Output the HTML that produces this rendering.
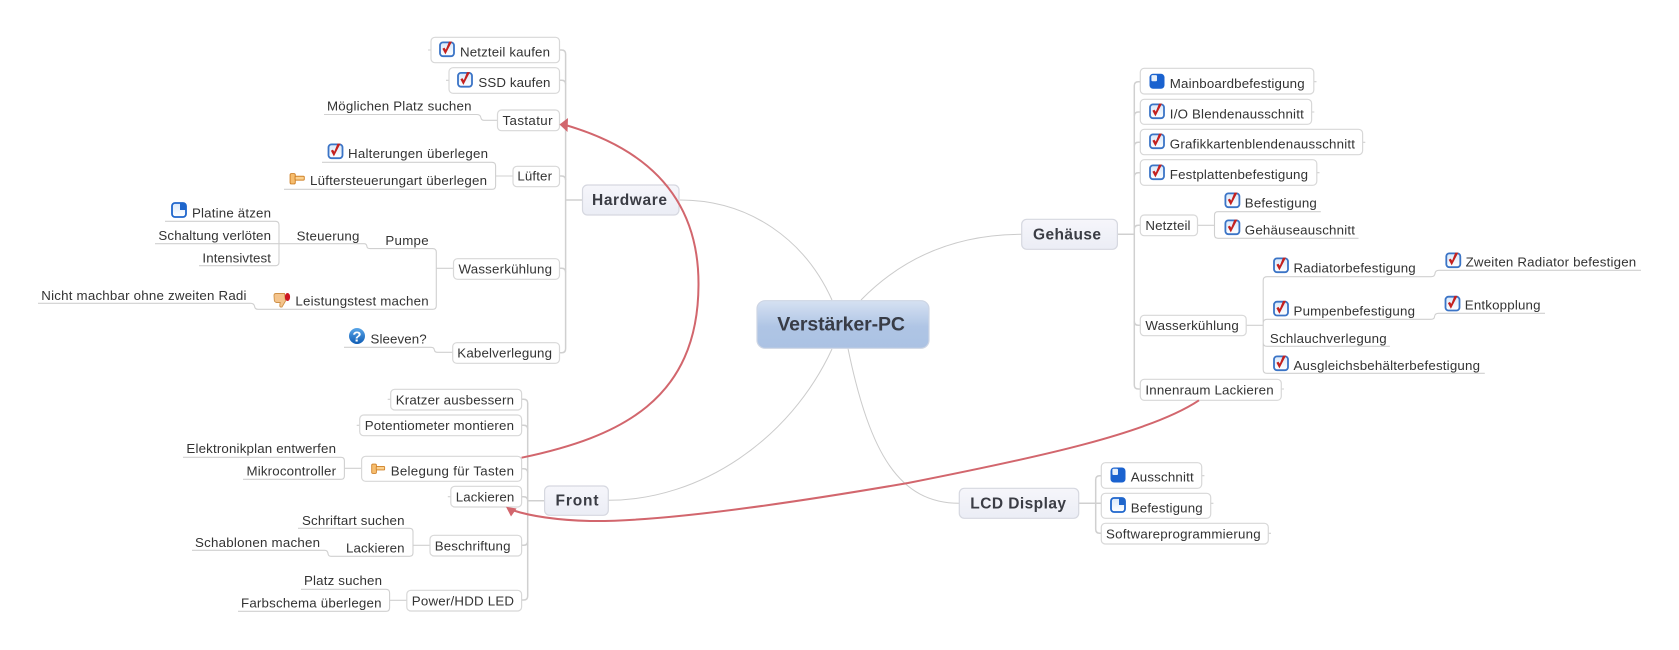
<!DOCTYPE html>
<html lang="de">
<head>
<meta charset="utf-8">
<title>Verstärker-PC</title>
<style>
html,body{margin:0;padding:0;background:#fff;width:1679px;height:650px;overflow:hidden}
svg{display:block}
text{font-family:"Liberation Sans",sans-serif;font-size:13.3px;fill:#333}
text.b{font-weight:bold;font-size:15.5px;fill:#3a3c44}
text.c{font-weight:bold;font-size:19.5px;fill:#383c46}
.l{fill:none;stroke:#d0d0d0;stroke-width:1.1}
.s{fill:none;stroke:#d0d0d0;stroke-width:1.5}
.k{fill:none;stroke:#cbcbcb;stroke-width:1}
.n{fill:#fff;stroke:#d8d8d8;stroke-width:1.2}
.m{fill:url(#mg);stroke:#d6d8e0;stroke-width:1.2}
.r{fill:none;stroke:#d2666d;stroke-width:2}
</style>
</head>
<body>
<svg width="1679" height="650" viewBox="0 0 1679 650" xmlns="http://www.w3.org/2000/svg">
<defs>
<linearGradient id="mg" x1="0" y1="0" x2="0" y2="1"><stop offset="0" stop-color="#f6f6fb"/><stop offset="1" stop-color="#ebedf5"/></linearGradient>
<linearGradient id="cg" x1="0" y1="0" x2="0" y2="1"><stop offset="0" stop-color="#d6e1f2"/><stop offset=".55" stop-color="#afc5e5"/><stop offset="1" stop-color="#abc2e3"/></linearGradient>
<linearGradient id="qg" x1="0" y1="0" x2="0" y2="1"><stop offset="0" stop-color="#5aa6e8"/><stop offset="1" stop-color="#0f5cb4"/></linearGradient>
<linearGradient id="wg" x1="0" y1="0" x2="0" y2="1"><stop offset="0" stop-color="#d9e8fa"/><stop offset="1" stop-color="#fff"/></linearGradient>
<symbol id="chk" viewBox="0 0 16 16" overflow="visible">
<rect x="1" y="1.4" width="14" height="13.8" rx="3" fill="url(#wg)" stroke="#3b74c6" stroke-width="1.8"/>
<path d="M3.4 7.8 L6.4 13.4 L13 .6 L10 .6 L6.8 8.6 L5.4 6.6 Z" fill="#c4211f"/>
</symbol>
<symbol id="p75" viewBox="0 0 16 16">
<rect x=".5" y=".5" width="15" height="15" rx="3.5" fill="#1a62cf"/>
<rect x="2.4" y="1.8" width="5.6" height="6.2" rx="1" fill="#e6effa"/>
</symbol>
<symbol id="p25" viewBox="0 0 16 16">
<rect x="1" y="1" width="14" height="14" rx="3" fill="url(#wg)" stroke="#1f66cc" stroke-width="1.8"/>
<path d="M9 1 H12 Q15 1 15 4 V8 H9 Z" fill="#1f66cc"/>
</symbol>
<symbol id="ham" viewBox="0 0 16 12">
<rect x=".8" y=".6" width="5.4" height="10.8" rx="1.4" fill="#f6bd6e" stroke="#cf8128" stroke-width="1"/>
<rect x="6" y="3.4" width="9.6" height="4" rx="1" fill="#fbd18f" stroke="#cf8128" stroke-width="1"/>
</symbol>
</defs>

<!-- central curves -->
<path class="k" d="M680 200 C750 200 805 240 832 300"/>
<path class="k" d="M1021.7 234.3 C960 234.3 905 255 861 300"/>
<path class="k" d="M608.3 500.3 C700 500.3 790 440 832 349"/>
<path class="k" d="M959.3 503.3 C900 503.3 870 455 848 348.5"/>

<!-- Hardware connectors -->
<path class="s" d="M559.5 50 H561.6 Q565.6 50 565.6 54 V348.7 Q565.6 352.7 561.6 352.7 H559.5"/>
<path class="s" d="M559.5 80.3 H561.6 Q565.6 80.3 565.6 84.3 M559.5 176 H561.6 Q565.6 176 565.6 180 M559.5 268.3 H561.6 Q565.6 268.3 565.6 272.3"/>
<path class="s" d="M565.6 200 H582.5"/>
<path class="l" d="M428 50 H431 M446 80.3 H449"/>
<path class="l" d="M324 114.5 H477 Q480.5 114.5 481 118 Q481.5 120.3 484 120.3 H497.5"/>
<path class="l" d="M322 162.3 H492 Q495.6 162.3 495.6 166 V185.6 Q495.6 189.3 492 189.3 H284 M495.6 176 H513"/>
<path class="l" d="M165 221.3 H275.4 Q279 221.3 279 225 V262 Q279 265.7 275.4 265.7 H199 M155 243.7 H364 Q366.5 243.7 366.8 246 Q367 248.6 370 248.6 H432.6 Q436.3 248.6 436.3 252.3 V305.6 Q436.3 309.3 432.6 309.3 H258 Q255 309.3 254.6 306.5 Q254 303.3 250.7 303.3 H38 M436.3 268.3 H453.5"/>
<path class="l" d="M344 347.3 H431 Q434 347.3 434.4 350 Q434.8 352.3 437.5 352.3 H452.7"/>

<!-- Front connectors -->
<path class="s" d="M521.6 399.3 H523.7 Q527.7 399.3 527.7 403.3 V596 Q527.7 600 523.7 600 H521.6"/>
<path class="s" d="M521.6 425.3 H523.7 Q527.7 425.3 527.7 429.3 M521.6 468.7 H523.7 Q527.7 468.7 527.7 472.7 M521.6 496.7 H523.7 Q527.7 496.7 527.7 500.7 M521.6 545.3 H523.7 Q527.7 545.3 527.7 541.3"/>
<path class="s" d="M527.7 500.7 H544.6"/>
<path class="l" d="M387.7 399.3 H390.7 M356.7 425.3 H359.7 M447.8 496.7 H450.8"/>
<path class="l" d="M183 457.3 H341 Q344.4 457.3 344.4 460.7 V476 Q344.4 479.3 341 479.3 H243 M344.4 468.3 H361.6"/>
<path class="l" d="M298 528.3 H409.5 Q413 528.3 413 531.8 V552.8 Q413 556.3 409.5 556.3 H331 Q328.3 556.3 328 553.5 Q327.5 550.3 324.7 550.3 H192 M413 545.3 H430"/>
<path class="l" d="M301 589.3 H386 Q389.6 589.3 389.6 593 V607.7 Q389.6 611.3 386 611.3 H238 M389.6 600.3 H406.8"/>

<!-- Gehäuse connectors -->
<path class="s" d="M1140.3 81.7 H1138.3 Q1134.3 81.7 1134.3 85.7 V385 Q1134.3 389 1138.3 389 H1140.3"/>
<path class="s" d="M1140.3 112 H1138.3 Q1134.3 112 1134.3 116 M1140.3 142.3 H1138.3 Q1134.3 142.3 1134.3 146.3 M1140.3 172.7 H1138.3 Q1134.3 172.7 1134.3 176.7 M1140.3 225.3 H1138.3 Q1134.3 225.3 1134.3 229.3 M1140.3 325.3 H1138.3 Q1134.3 325.3 1134.3 321.3"/>
<path class="s" d="M1117.4 234.3 H1134.3"/>
<path class="l" d="M1313.8 81.7 H1316.5 M1311.6 112 H1314.3 M1362.6 142.3 H1365.3 M1316.8 172.7 H1319.5 M1281.3 389 H1284"/>
<path class="l" d="M1197.5 225.3 H1214.5 M1320.8 211.7 H1218 Q1214.5 211.7 1214.5 215.2 V234.8 Q1214.5 238.3 1218 238.3 H1358.5"/>
<path class="l" d="M1246.2 325.3 H1263.2 M1431 276.7 H1267 Q1263.2 276.7 1263.2 280.4 V369.6 Q1263.2 373.3 1267 373.3 H1484.8 M1263.2 323 Q1263.2 319.3 1267 319.3 H1431 M1263.2 342.6 Q1263.2 346.3 1267 346.3 H1389.9"/>
<path class="l" d="M1431 276.7 Q1434.8 276.7 1435 273.5 Q1435.4 270.3 1439 270.3 H1641"/>
<path class="l" d="M1431 319.3 Q1434.4 319.3 1434.6 316.3 Q1435 313.3 1438.5 313.3 H1545"/>

<!-- LCD connectors -->
<path class="s" d="M1101.3 475.7 H1099.7 Q1095.7 475.7 1095.7 479.7 V529.3 Q1095.7 533.3 1099.7 533.3 H1101.3"/>
<path class="s" d="M1078.7 503.3 H1101.3"/>
<path class="l" d="M1201.7 475.7 H1204.4 M1210.7 503.3 H1213.4 M1268.3 533.3 H1271"/>

<!-- Central and main topics -->
<rect x="757" y="300.7" width="172" height="47.6" rx="8" fill="url(#cg)" stroke="#cdd5e4" stroke-width="1.2"/>
<text class="c" x="777.3" y="330.7" textLength="127.7">Verstärker-PC</text>
<rect class="m" x="582.5" y="185" width="96.5" height="30" rx="5"/>
<text class="b" x="592" y="205" textLength="75">Hardware</text>
<rect class="m" x="544.6" y="486" width="63.7" height="29.3" rx="5"/>
<text class="b" x="555.5" y="505.5" textLength="43">Front</text>
<rect class="m" x="1021.7" y="219.3" width="95.7" height="30" rx="5"/>
<text class="b" x="1033" y="239.3" textLength="68">Gehäuse</text>
<rect class="m" x="959.3" y="488.3" width="119.4" height="30" rx="5"/>
<text class="b" x="970.3" y="508.3" textLength="95.7">LCD Display</text>

<!-- Hardware children -->
<rect class="n" x="431" y="37.3" width="128.5" height="25.4" rx="4"/>
<use href="#chk" x="439" y="41" width="16" height="16"/>
<text x="460" y="56.7" textLength="90">Netzteil kaufen</text>
<rect class="n" x="449" y="67.7" width="110.5" height="25.6" rx="4"/>
<use href="#chk" x="457" y="71.5" width="16" height="16"/>
<text x="478.4" y="87" textLength="72">SSD kaufen</text>
<rect class="n" x="497.5" y="110" width="62" height="20.7" rx="4"/>
<text x="502.5" y="125" textLength="50">Tastatur</text>
<text x="327" y="110.5" textLength="144.5">Möglichen Platz suchen</text>
<rect class="n" x="513" y="166.3" width="46.5" height="20.4" rx="4"/>
<text x="517.4" y="180.7" textLength="34.6">Lüfter</text>
<use href="#chk" x="327.5" y="143" width="16" height="16"/>
<text x="348" y="158" textLength="140">Halterungen überlegen</text>
<use href="#ham" x="289" y="173" width="16" height="11.5"/>
<text x="310" y="185" textLength="177">Lüftersteuerungart überlegen</text>
<use href="#p25" x="171" y="202" width="16" height="16"/>
<text x="192" y="217.3" textLength="79">Platine ätzen</text>
<text x="158.4" y="240" textLength="112.6">Schaltung verlöten</text>
<text x="202.4" y="262.3" textLength="68.6">Intensivtest</text>
<text x="296.6" y="240.3" textLength="62.8">Steuerung</text>
<text x="385.4" y="245" textLength="43.2">Pumpe</text>
<rect class="n" x="453.5" y="258.7" width="106" height="20.6" rx="4"/>
<text x="458.5" y="273.3" textLength="93.5">Wasserkühlung</text>
<g transform="translate(274 292)">
<path d="M2 1.5 H10.5 L11.5 9 L8 15 Q5.5 15.5 5.8 13 L6.2 10.5 H2.5 Q.3 10 .3 8 L0 3.5 Q0 1.5 2 1.5 Z" fill="#f4c48c" stroke="#cf9148" stroke-width=".9"/>
<ellipse cx="13.5" cy="5" rx="2.6" ry="4" fill="#cc1622"/>
</g>
<text x="295.4" y="305.7" textLength="133.2">Leistungstest machen</text>
<text x="41.3" y="300" textLength="205.2">Nicht machbar ohne zweiten Radi</text>
<rect class="n" x="452.7" y="342.7" width="106.8" height="20.6" rx="4"/>
<text x="457.3" y="357.3" textLength="94.7">Kabelverlegung</text>
<g>
<circle cx="357" cy="336" r="8" fill="url(#qg)"/>
<text x="357" y="341.5" text-anchor="middle" style="font-size:15px;font-weight:bold;fill:#fff">?</text>
</g>
<text x="370.5" y="343.3" textLength="56.2">Sleeven?</text>

<!-- Front children -->
<rect class="n" x="390.7" y="389.3" width="130.9" height="20.7" rx="4"/>
<text x="395.7" y="404.3" textLength="118.3">Kratzer ausbessern</text>
<rect class="n" x="359.7" y="415" width="161.9" height="20.7" rx="4"/>
<text x="364.7" y="430" textLength="149.3">Potentiometer montieren</text>
<rect class="n" x="361.6" y="456.3" width="160" height="25" rx="4"/>
<use href="#ham" x="370" y="463.5" width="16" height="10.5"/>
<text x="390.7" y="475.7" textLength="123.3">Belegung für Tasten</text>
<rect class="n" x="450.8" y="486.3" width="70.8" height="20.7" rx="4"/>
<text x="455.8" y="501.3" textLength="58.5">Lackieren</text>
<rect class="n" x="430" y="535.3" width="91.6" height="20.7" rx="4"/>
<text x="434.7" y="550.3" textLength="75.8">Beschriftung</text>
<rect class="n" x="406.8" y="590.3" width="114.8" height="20.7" rx="4"/>
<text x="411.8" y="605.3" textLength="102.2">Power/HDD LED</text>
<text x="186.4" y="453" textLength="149.6">Elektronikplan entwerfen</text>
<text x="246.5" y="475.3" textLength="89.5">Mikrocontroller</text>
<text x="302" y="525" textLength="102.5">Schriftart suchen</text>
<text x="346" y="552.7" textLength="58.5">Lackieren</text>
<text x="195" y="547" textLength="125">Schablonen machen</text>
<text x="304" y="585" textLength="78">Platz suchen</text>
<text x="241" y="607.3" textLength="140.5">Farbschema überlegen</text>

<!-- Gehäuse children -->
<rect class="n" x="1140.3" y="68.3" width="173.5" height="25.7" rx="4"/>
<use href="#p75" x="1149" y="73.3" width="16" height="16"/>
<text x="1169.8" y="88" textLength="134.8">Mainboardbefestigung</text>
<rect class="n" x="1140.3" y="99.3" width="171.3" height="25" rx="4"/>
<use href="#chk" x="1149" y="103" width="16" height="16"/>
<text x="1169.8" y="118.3" textLength="134">I/O Blendenausschnitt</text>
<rect class="n" x="1140.3" y="129.3" width="222.3" height="25.4" rx="4"/>
<use href="#chk" x="1149" y="133" width="16" height="16"/>
<text x="1169.8" y="148.7" textLength="185.2">Grafikkartenblendenausschnitt</text>
<rect class="n" x="1140.3" y="159.7" width="176.5" height="25.6" rx="4"/>
<use href="#chk" x="1149" y="164" width="16" height="16"/>
<text x="1169.8" y="179" textLength="138.2">Festplattenbefestigung</text>
<rect class="n" x="1140.3" y="215" width="57.2" height="20.7" rx="4"/>
<text x="1145.4" y="230" textLength="45.1">Netzteil</text>
<use href="#chk" x="1224.4" y="192" width="16" height="16"/>
<text x="1244.8" y="207.7" textLength="72">Befestigung</text>
<use href="#chk" x="1224.4" y="219" width="16" height="16"/>
<text x="1244.8" y="234.3" textLength="110.2">Gehäuseauschnitt</text>
<rect class="n" x="1140.3" y="315.3" width="105.9" height="20.4" rx="4"/>
<text x="1145.4" y="330" textLength="93.4">Wasserkühlung</text>
<use href="#chk" x="1273" y="257" width="16" height="16"/>
<text x="1293.5" y="272.3" textLength="122.2">Radiatorbefestigung</text>
<use href="#chk" x="1445.3" y="252" width="16" height="16"/>
<text x="1465.6" y="266.5" textLength="170.6">Zweiten Radiator befestigen</text>
<use href="#chk" x="1273" y="300.3" width="16" height="16"/>
<text x="1293.5" y="315.7" textLength="121.5">Pumpenbefestigung</text>
<use href="#chk" x="1444.5" y="295.3" width="16" height="16"/>
<text x="1464.8" y="309.7" textLength="75.7">Entkopplung</text>
<text x="1269.9" y="343" textLength="116.7">Schlauchverlegung</text>
<use href="#chk" x="1273" y="355" width="16" height="16"/>
<text x="1293.5" y="370" textLength="186.5">Ausgleichsbehälterbefestigung</text>
<rect class="n" x="1140.3" y="379.3" width="141" height="21" rx="4"/>
<text x="1145.4" y="394.3" textLength="128.2">Innenraum Lackieren</text>

<!-- LCD children -->
<rect class="n" x="1101.3" y="462.7" width="100.4" height="25.6" rx="4"/>
<use href="#p75" x="1110" y="467" width="16" height="16"/>
<text x="1130.7" y="481.7" textLength="63">Ausschnitt</text>
<rect class="n" x="1101.3" y="493.3" width="109.4" height="25" rx="4"/>
<use href="#p25" x="1110" y="497" width="16" height="16"/>
<text x="1130.7" y="512.3" textLength="72">Befestigung</text>
<rect class="n" x="1101.3" y="523.3" width="167" height="20.7" rx="4"/>
<text x="1106" y="538.3" textLength="154.7">Softwareprogrammierung</text>

<!-- Relationship arrows -->
<path class="r" d="M521.6 457.7 C620 437 698 400 698.5 285 C699 200 650 150 567 125.5"/>
<path d="M559.5 124.5 L568 118 L567.5 132 Z" fill="#d2666d"/>
<path class="r" d="M1199 400.3 C1150 433 1040 457 908 483 C780 505 660 522 590 521 C555 520 530 516 512 510"/>
<path d="M506 506.8 L516.6 508.5 L511 516.5 Z" fill="#d2666d"/>
</svg>
</body>
</html>
